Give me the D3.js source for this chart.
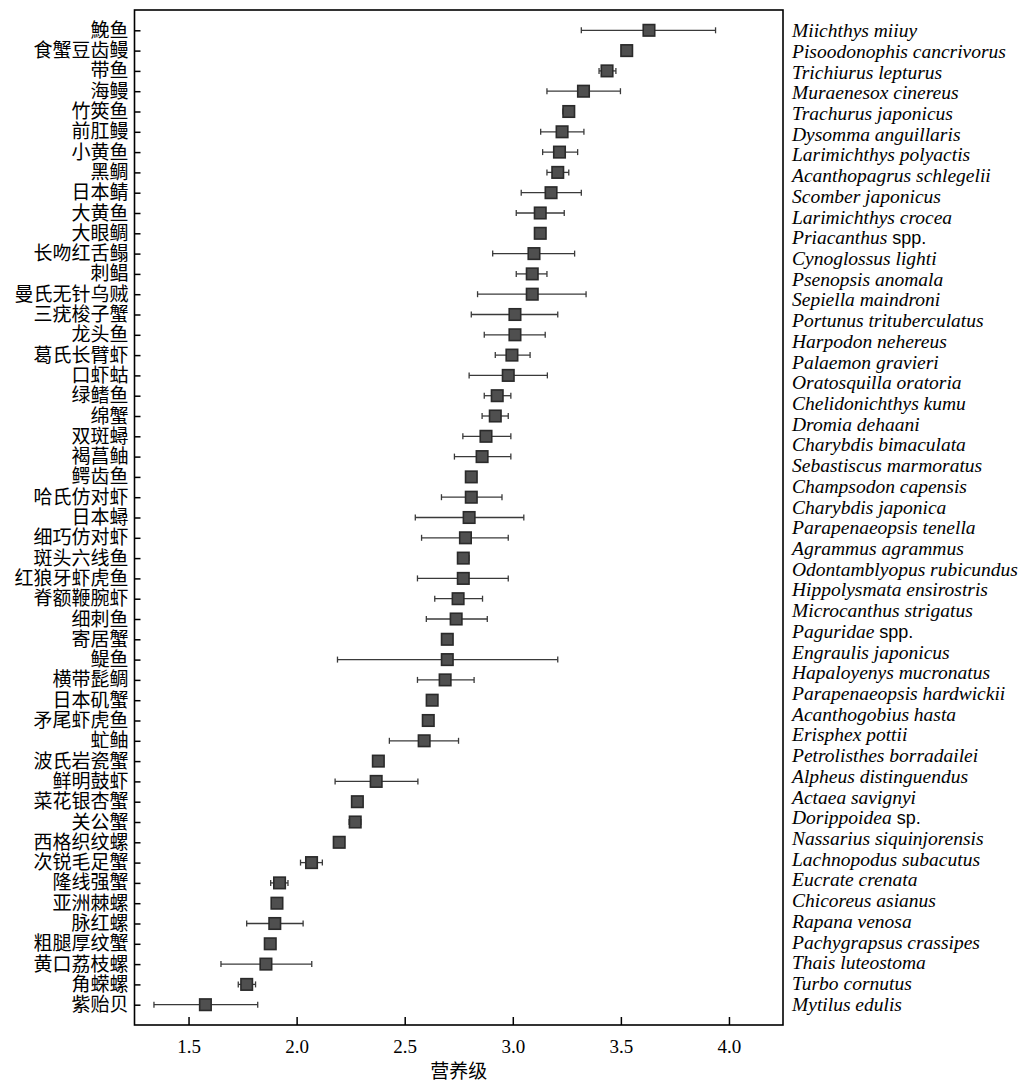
<!DOCTYPE html>
<html>
<head>
<meta charset="utf-8">
<script src="https://cdn.jsdelivr.net/npm/d3@7"></script>
<style>
  html, body { margin: 0; padding: 0; background: #fff; }
  svg { display: block; }
</style>
</head>
<body>
<svg id="chart" width="1029" height="1086"></svg>
<script>
// ---------- DATA ----------
const namesCN = ["鮸鱼","食蟹豆齿鳗","带鱼","海鳗","竹筴鱼","前肛鳗","小黄鱼","黑鲷","日本鲭","大黄鱼",
  "大眼鲷","长吻红舌鳎","刺鲳","曼氏无针乌贼","三疣梭子蟹","龙头鱼","葛氏长臂虾","口虾蛄","绿鳍鱼","绵蟹",
  "双斑蟳","褐菖鲉","鳄齿鱼","哈氏仿对虾","日本蟳","细巧仿对虾","斑头六线鱼","红狼牙虾虎鱼","脊额鞭腕虾","细刺鱼",
  "寄居蟹","鳀鱼","横带髭鲷","日本矶蟹","矛尾虾虎鱼","虻鲉","波氏岩瓷蟹","鲜明鼓虾","菜花银杏蟹","关公蟹",
  "西格织纹螺","次锐毛足蟹","隆线强蟹","亚洲棘螺","脉红螺","粗腿厚纹蟹","黄口荔枝螺","角蝾螺","紫贻贝"];

// Latin names: [italic part, upright suffix]
const namesLatin = [
  ["Miichthys miiuy",""],["Pisoodonophis cancrivorus",""],["Trichiurus lepturus",""],["Muraenesox cinereus",""],
  ["Trachurus japonicus",""],["Dysomma anguillaris",""],["Larimichthys polyactis",""],["Acanthopagrus schlegelii",""],
  ["Scomber japonicus",""],["Larimichthys crocea",""],["Priacanthus"," spp."],["Cynoglossus lighti",""],
  ["Psenopsis anomala",""],["Sepiella maindroni",""],["Portunus trituberculatus",""],["Harpodon nehereus",""],
  ["Palaemon gravieri",""],["Oratosquilla oratoria",""],["Chelidonichthys kumu",""],["Dromia dehaani",""],
  ["Charybdis bimaculata",""],["Sebastiscus marmoratus",""],["Champsodon capensis",""],["Charybdis japonica",""],
  ["Parapenaeopsis tenella",""],["Agrammus agrammus",""],["Odontamblyopus rubicundus",""],["Hippolysmata ensirostris",""],
  ["Microcanthus strigatus",""],["Paguridae"," spp."],["Engraulis japonicus",""],["Hapaloyenys mucronatus",""],
  ["Parapenaeopsis hardwickii",""],["Acanthogobius hasta",""],["Erisphex pottii",""],["Petrolisthes borradailei",""],
  ["Alpheus distinguendus",""],["Actaea savignyi",""],["Dorippoidea"," sp."],["Nassarius siquinjorensis",""],
  ["Lachnopodus subacutus",""],["Eucrate crenata",""],["Chicoreus asianus",""],["Rapana venosa",""],
  ["Pachygrapsus crassipes",""],["Thais luteostoma",""],["Turbo cornutus",""],["Mytilus edulis",""]
];

const trophic = [3.630,3.527,3.436,3.327,3.259,3.228,3.216,3.208,3.177,3.127,
  3.127,3.098,3.090,3.090,3.010,3.010,2.996,2.979,2.928,2.919,
  2.876,2.858,2.808,2.808,2.798,2.781,2.771,2.771,2.747,2.738,
  2.697,2.697,2.687,2.627,2.609,2.590,2.378,2.368,2.281,2.271,
  2.197,2.069,1.921,1.909,1.899,1.878,1.858,1.769,1.578];

const errLow = [3.317,null,3.399,3.158,3.232,3.129,3.138,3.158,3.039,3.016,
  null,2.907,3.016,2.837,2.808,2.868,2.919,2.798,2.868,2.858,
  2.769,2.730,null,2.670,2.549,2.578,2.746,2.559,2.639,2.600,
  null,2.189,2.559,null,null,2.429,null,2.178,null,2.243,
  null,2.018,1.880,null,1.769,null,1.650,1.730,1.340];

const errHigh = [3.938,null,3.477,3.498,3.284,3.329,3.300,3.259,3.317,3.238,
  null,3.286,3.158,3.339,3.208,3.150,3.080,3.160,2.991,2.979,
  2.991,2.991,null,2.950,3.051,2.979,2.797,2.979,2.860,2.882,
  null,3.208,2.821,null,null,2.749,null,2.561,null,2.297,
  null,2.119,1.960,null,2.030,null,2.070,1.810,1.820];

const xTicks = [1.5, 2.0, 2.5, 3.0, 3.5, 4.0];
const xDomain = [1.25, 4.25];
const xTitle = "营养级";

// ---------- LAYOUT ----------
const svg = d3.select("#chart");
const L = 134.5, R = 783, T = 10, B = 1025;

const x = d3.scaleLinear().domain(xDomain).range([L, R]);
const y = d3.scalePoint().domain(d3.range(namesCN.length)).range([T, B]).padding(1);
const yR = d3.scalePoint().domain(d3.range(namesLatin.length)).range([T, B]).padding(1);

const serif = "'Liberation Serif', 'Times New Roman', serif";
const cjk = "'Noto Sans CJK SC', 'Liberation Serif', sans-serif";

// left axis (inward ticks)
const gL = svg.append("g").attr("transform", `translate(${L},0)`)
  .call(d3.axisLeft(y).tickSize(-6).tickPadding(6).tickFormat(i => namesCN[i]));
gL.select(".domain").remove();
gL.selectAll(".tick line").attr("stroke", "#000").attr("stroke-width", 1.5);
gL.selectAll(".tick text").attr("font-family", cjk).attr("font-size", 19).attr("fill", "#000");

// bottom axis (inward ticks)
const gB = svg.append("g").attr("transform", `translate(0,${B})`)
  .call(d3.axisBottom(x).tickValues(xTicks).tickSize(-8).tickPadding(15).tickFormat(d3.format(".1f")));
gB.select(".domain").remove();
gB.selectAll(".tick line").attr("stroke", "#000").attr("stroke-width", 1.5);
gB.selectAll(".tick text").attr("font-family", serif).attr("font-size", 19).attr("fill", "#000");

// frame
svg.append("rect").attr("x", L).attr("y", T).attr("width", R - L).attr("height", B - T)
  .attr("fill", "none").attr("stroke", "#000").attr("stroke-width", 1.6);

// error bars
const idx = d3.range(trophic.length).filter(i => errLow[i] != null);
const eg = svg.append("g").attr("stroke", "#3a3a3a").attr("stroke-width", 1.3);
eg.selectAll("line.bar").data(idx).join("line").attr("class", "bar")
  .attr("x1", i => x(errLow[i])).attr("x2", i => x(errHigh[i]))
  .attr("y1", i => y(i)).attr("y2", i => y(i));
eg.selectAll("line.capL").data(idx).join("line").attr("class", "capL")
  .attr("x1", i => x(errLow[i])).attr("x2", i => x(errLow[i]))
  .attr("y1", i => y(i) - 3).attr("y2", i => y(i) + 3);
eg.selectAll("line.capH").data(idx).join("line").attr("class", "capH")
  .attr("x1", i => x(errHigh[i])).attr("x2", i => x(errHigh[i]))
  .attr("y1", i => y(i) - 3).attr("y2", i => y(i) + 3);

// squares
const s = 11.5;
svg.append("g").selectAll("rect").data(trophic).join("rect")
  .attr("x", d => x(d) - s / 2).attr("y", (d, i) => y(i) - s / 2)
  .attr("width", s).attr("height", s)
  .attr("fill", "#4f4f4f").attr("stroke", "#2a2a2a").attr("stroke-width", 1.6);

// right labels
const rt = svg.append("g").selectAll("text").data(namesLatin).join("text")
  .attr("x", R + 9).attr("y", (d, i) => yR(i)).attr("dy", "0.33em")
  .attr("font-family", serif).attr("font-size", 19.5).attr("fill", "#000");
rt.append("tspan").attr("font-style", "italic").text(d => d[0]);
rt.filter(d => d[1]).append("tspan").attr("font-style", "normal")
  .attr("font-family", "'Liberation Sans', Arial, sans-serif").attr("font-size", 18).text(d => d[1]);

// x title
svg.append("text").attr("x", (L + R) / 2).attr("y", 1071).attr("dy", "0.35em")
  .attr("text-anchor", "middle").attr("font-family", cjk).attr("font-size", 19)
  .attr("fill", "#000").text(xTitle);
</script>
</body>
</html>
